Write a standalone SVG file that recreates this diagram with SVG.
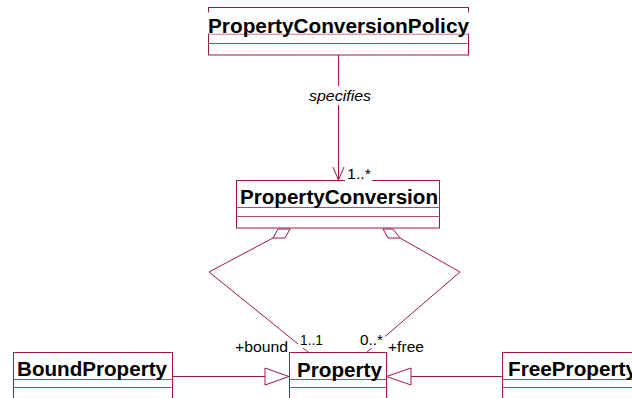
<svg xmlns="http://www.w3.org/2000/svg" width="632" height="398" viewBox="0 0 632 398">
  <style>
    .box { fill: #ffffff; stroke: #a0184a; stroke-width: 1; }
    .div { stroke: #b8456d; stroke-width: 1; }
    .name { font-family: "Liberation Sans", Arial, sans-serif; font-weight: bold; font-size: 20px; fill: #000000; }
    .line { fill: none; stroke: #a0184a; stroke-width: 1; }
    .head { fill: #ffffff; stroke: #a0184a; stroke-width: 1; }
    .lbl { font-family: "Liberation Sans", Arial, sans-serif; font-size: 15px; fill: #000000; }
    .bg { fill: #ffffff; }
  </style>
  <rect width="632" height="398" fill="#ffffff"/>

  <!-- classes -->
  <g id="PropertyConversionPolicy">
    <rect class="box" x="208.5" y="7.5" width="260" height="47.5"/>
    <line class="div" x1="208.5" y1="34" x2="468.5" y2="34"/>
    <line class="div" x1="208.5" y1="43.5" x2="468.5" y2="43.5"/>
    <rect class="bg" x="206" y="12.5" width="265" height="21"/>
    <text class="name" x="208" y="33" textLength="261" lengthAdjust="spacingAndGlyphs">PropertyConversionPolicy</text>
  </g>

  <g id="PropertyConversion">
    <rect class="box" x="236.5" y="180.5" width="203" height="47.5"/>
    <line class="div" x1="236.5" y1="207.5" x2="439.5" y2="207.5"/>
    <line class="div" x1="236.5" y1="216.5" x2="439.5" y2="216.5"/>
    <text class="name" x="240" y="204" textLength="198" lengthAdjust="spacingAndGlyphs">PropertyConversion</text>
  </g>

  <g id="Property">
    <rect class="box" x="289.5" y="352.5" width="97" height="50"/>
    <line class="div" x1="289.5" y1="379.5" x2="386.5" y2="379.5"/>
    <line class="div" x1="289.5" y1="387.5" x2="386.5" y2="387.5"/>
    <text class="name" x="297" y="377" textLength="85" lengthAdjust="spacingAndGlyphs">Property</text>
  </g>

  <g id="BoundProperty">
    <rect class="box" x="13.5" y="352.5" width="159" height="50"/>
    <line class="div" x1="13.5" y1="379.5" x2="172.5" y2="379.5"/>
    <line class="div" x1="13.5" y1="387.5" x2="172.5" y2="387.5"/>
    <text class="name" x="17" y="376" textLength="150" lengthAdjust="spacingAndGlyphs">BoundProperty</text>
  </g>

  <g id="FreeProperty">
    <rect class="box" x="502.5" y="352.5" width="160" height="50"/>
    <line class="div" x1="502.5" y1="379.5" x2="662.5" y2="379.5"/>
    <line class="div" x1="502.5" y1="387.5" x2="662.5" y2="387.5"/>
    <text class="name" x="508" y="376" textLength="129" lengthAdjust="spacingAndGlyphs">FreeProperty</text>
  </g>

  <!-- connectors -->
  <g id="connectors">
    <!-- specifies association -->
    <line class="line" x1="338.5" y1="55" x2="338.5" y2="180"/>
    <polyline class="line" points="333,167 338.5,180 344,167"/>
    <rect class="bg" x="308" y="86" width="65" height="19"/>
    <text class="lbl" x="309" y="101" font-style="italic" textLength="62" lengthAdjust="spacingAndGlyphs">specifies</text>
    <rect class="bg" x="345" y="167" width="27" height="15"/>
    <text class="lbl" x="347" y="179" textLength="24" lengthAdjust="spacingAndGlyphs">1..*</text>

    <!-- bound aggregation -->
    <polyline class="line" points="273,238 209,272 308,352"/>
    <polygon class="head" points="278,229 273,238 285,238 290,229"/>
    <rect class="bg" x="298" y="332" width="27" height="16"/>
    <text class="lbl" x="300" y="345" textLength="23" lengthAdjust="spacingAndGlyphs">1..1</text>
    <text class="lbl" x="235" y="352" textLength="53" lengthAdjust="spacingAndGlyphs">+bound</text>

    <!-- free aggregation -->
    <polyline class="line" points="400,238 460,272 367,352"/>
    <polygon class="head" points="383,229 388,238 400,238 393,229"/>
    <rect class="bg" x="358" y="332" width="27" height="16"/>
    <text class="lbl" x="360" y="345" textLength="23" lengthAdjust="spacingAndGlyphs">0..*</text>
    <text class="lbl" x="388" y="352" textLength="36" lengthAdjust="spacingAndGlyphs">+free</text>

    <!-- generalizations -->
    <line class="line" x1="172.5" y1="376.5" x2="265" y2="376.5"/>
    <polygon class="head" points="265,368 289,376.5 265,385"/>
    <line class="line" x1="502.5" y1="376.5" x2="411" y2="376.5"/>
    <polygon class="head" points="411,368 386.5,376.5 411,385"/>
  </g>
</svg>
